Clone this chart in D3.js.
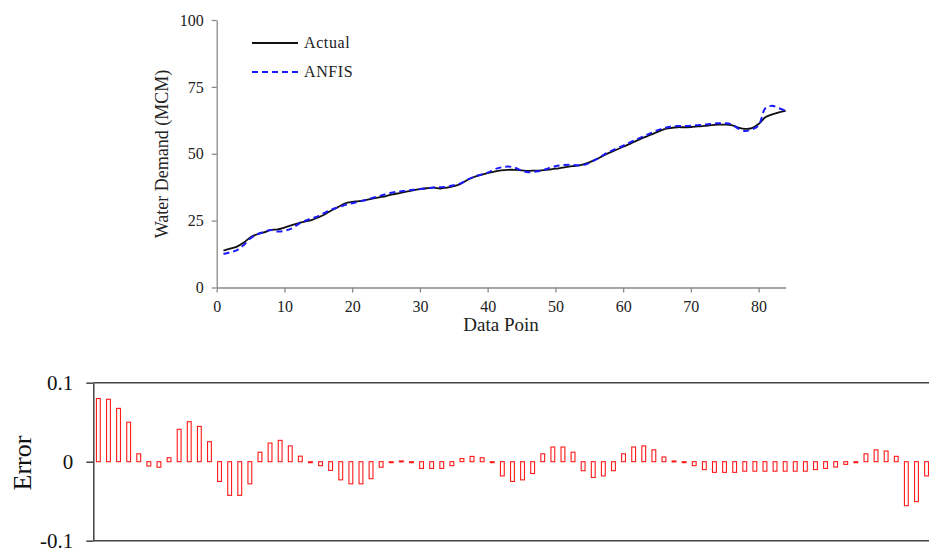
<!doctype html>
<html lang="en">

<head>
  <script src="https://d3js.org/d3.v7.min.js"></script>
  <style>
    body { margin: 0; background: #fff; }
    svg { display: block; }
    svg text { font-family: "Liberation Serif", "DejaVu Serif", serif; }
  </style>
</head>

<body>
  <svg id="chart" width="929" height="550">
    <g id="demand"></g>
    <g id="error"></g>
  </svg>
  <script>
    // values, data point 1..84
    var actual = [13.8, 14.5, 15.3, 16.8, 18.8, 19.9, 20.6, 21.5, 21.7, 22.4,
      23.2, 24.0, 24.6, 25.2, 26.2, 27.4, 28.9, 30.2, 31.5, 32.0,
      32.3, 32.7, 33.2, 33.7, 34.2, 34.8, 35.3, 35.8, 36.3, 36.8,
      37.1, 37.3, 37.0, 37.3, 37.9, 38.7, 40.2, 41.3, 42.1, 42.8,
      43.3, 43.8, 44.0, 44.0, 43.8, 43.6, 43.7, 43.8, 44.1, 44.4,
      44.8, 45.2, 45.5, 45.9, 46.8, 47.9, 49.2, 50.4, 51.5, 52.6,
      53.7, 54.9, 56.0, 57.0, 58.1, 59.1, 59.6, 59.9, 59.9, 60.0,
      60.2, 60.4, 60.7, 60.9, 60.9, 60.7, 59.8, 59.3, 59.6, 61.1,
      63.6, 64.7, 65.5, 66.0];

    var anfis = [12.5, 13.2, 14.0, 15.9, 18.4, 19.9, 20.8, 21.5, 20.9, 21.2,
      22.0, 23.6, 24.9, 25.8, 26.7, 28.0, 29.2, 30.0, 30.9, 31.5,
      32.1, 32.7, 33.5, 34.2, 34.9, 35.5, 35.9, 36.2, 36.5, 36.8,
      37.1, 37.4, 37.5, 37.7, 38.2, 38.9, 40.3, 41.4, 42.2, 42.9,
      44.2, 44.9, 45.2, 44.8, 43.7, 43.1, 43.3, 43.7, 44.6, 45.3,
      45.7, 45.9, 45.7, 45.7, 46.5, 47.9, 49.4, 50.8, 51.9, 53.0,
      54.2, 55.4, 56.5, 57.6, 58.7, 59.6, 60.1, 60.4, 60.4, 60.5,
      60.7, 60.9, 61.2, 61.4, 61.4, 61.0, 59.4, 58.5, 59.1, 60.6,
      67.0, 67.9, 67.0, 66.1];

    var errors = [0.080, 0.079, 0.0675, 0.050, 0.010, -0.0055, -0.007, 0.005, 0.041, 0.0506,
      0.0447, 0.0253, -0.025, -0.0426, -0.0426, -0.028, 0.012, 0.0236, 0.027, 0.020,
      0.007, -0.001, -0.005, -0.011, -0.023, -0.028, -0.028, -0.0215, -0.007, -0.001,
      0.001, -0.001, -0.0085, -0.0085, -0.0085, -0.005, 0.004, 0.0067, 0.005, -0.001,
      -0.018, -0.025, -0.023, -0.015, 0.010, 0.0186, 0.0186, 0.012, -0.0114, -0.020,
      -0.018, -0.0114, 0.010, 0.0186, 0.020, 0.015, 0.006, 0.001, -0.001, -0.005,
      -0.010, -0.0135, -0.0135, -0.0135, -0.012, -0.012, -0.012, -0.012, -0.012, -0.012,
      -0.012, -0.010, -0.0085, -0.0068, -0.0034, -0.001, 0.010, 0.015, 0.0135, 0.0068,
      -0.0557, -0.0506, -0.018, -0.001];

    var xTicks = [0, 10, 20, 30, 40, 50, 60, 70, 80];
    var yTicks = [0, 25, 50, 75, 100];
    var errTicks = [-0.1, 0, 0.1];
    var errLabels = ["-0.1", "0", "0.1"];

    var points = d3.range(1, actual.length + 1);
    var serif = "Liberation Serif";

    // ---- top chart: water demand ----
    const demand = d3.select("#demand");

    x = d3.scaleLinear()
        .domain([0, 84])
        .range([216.7, 785.7]);

    y = d3.scaleLinear()
        .domain([0, 100])
        .range([287.5, 20]);

    xAxis = g => g
        .attr("transform", `translate(0,${y(0)})`)
        .attr("font-family", serif)
        .call(d3.axisBottom(x).tickValues(xTicks).tickSize(5).tickSizeOuter(0))
        .call(g => g.selectAll("path, line").attr("stroke", "#8a8a8a").attr("stroke-width", 1.3))
        .call(g => g.selectAll("text").attr("font-size", 16).attr("fill", "#222")
            .attr("font-family", serif).attr("dy", "1.05em"));

    yAxis = g => g
        .attr("transform", `translate(${x(0)},0)`)
        .attr("font-family", serif)
        .call(d3.axisLeft(y).tickValues(yTicks).tickSize(5).tickSizeOuter(0))
        .call(g => g.selectAll("path, line").attr("stroke", "#8a8a8a").attr("stroke-width", 1.3))
        .call(g => g.selectAll("text").attr("font-size", 16).attr("fill", "#222")
            .attr("font-family", serif).attr("x", -13));

    demand.append("g").call(xAxis);
    demand.append("g").call(yAxis);

    line = series => d3.line()
        .curve(d3.curveCatmullRom)
        .x((d, i) => x(points[i]))
        .y(d => y(d))(series);

    demand.append("path")
        .attr("d", line(actual))
        .attr("fill", "none")
        .attr("stroke", "#111")
        .attr("stroke-width", 1.8);

    demand.append("path")
        .attr("d", line(anfis))
        .attr("fill", "none")
        .attr("stroke", "#1a1aff")
        .attr("stroke-width", 2)
        .attr("stroke-dasharray", "6,4");

    // legend
    var legend = [
      {name: "Actual", color: "#111", dash: null, width: 1.8},
      {name: "ANFIS", color: "#1a1aff", dash: "6,4", width: 2}
    ];
    var lg = demand.selectAll(".legend")
        .data(legend)
        .join("g")
        .attr("class", "legend")
        .attr("transform", (d, i) => `translate(252,${43 + i * 29})`);
    lg.append("line")
        .attr("x1", 0).attr("x2", 46)
        .attr("stroke", d => d.color)
        .attr("stroke-width", d => d.width)
        .attr("stroke-dasharray", d => d.dash);
    lg.append("text")
        .attr("x", 52)
        .attr("dy", "0.32em")
        .attr("font-family", serif)
        .attr("font-size", 16)
        .attr("fill", "#222")
        .attr("letter-spacing", 0.6)
        .text(d => d.name);

    demand.append("text")
        .attr("x", 501)
        .attr("y", 331)
        .attr("text-anchor", "middle")
        .attr("font-family", serif)
        .attr("font-size", 19)
        .attr("fill", "#222")
        .text("Data Poin");

    demand.append("text")
        .attr("transform", "translate(168,154) rotate(-90)")
        .attr("text-anchor", "middle")
        .attr("font-family", serif)
        .attr("font-size", 18)
        .attr("fill", "#222")
        .text("Water Demand (MCM)");

    // ---- bottom chart: error ----
    const errG = d3.select("#error");

    xb = d3.scaleBand()
        .domain(points)
        .range([93.3, 93.3 + 84 * 10.1])
        .paddingInner(0.62)
        .paddingOuter(0.31);

    yb = d3.scaleLinear()
        .domain([-0.1, 0.1])
        .range([540.7, 382.7]);

    errG.append("g")
        .attr("transform", `translate(93.3,0)`)
        .attr("font-family", serif)
        .call(d3.axisLeft(yb).tickValues(errTicks).tickFormat((d, i) => errLabels[i]).tickSize(7).tickSizeOuter(0))
        .call(g => g.selectAll("path, line").attr("stroke", "#444").attr("stroke-width", 1.5))
        .call(g => g.selectAll("text").attr("font-size", 21).attr("fill", "#111")
            .attr("font-family", serif).attr("x", -20));

    errG.selectAll(".edge")
        .data([0.1, -0.1])
        .join("line")
        .attr("class", "edge")
        .attr("x1", 93.3).attr("x2", 945)
        .attr("y1", d => yb(d)).attr("y2", d => yb(d))
        .attr("stroke", "#444")
        .attr("stroke-width", 1.5);

    errG.selectAll(".bar")
        .data(errors)
        .join("rect")
        .attr("class", "bar")
        .attr("x", (d, i) => xb(points[i]))
        .attr("width", xb.bandwidth())
        .attr("y", d => yb(Math.max(0, d)))
        .attr("height", d => Math.max(1, Math.abs(yb(d) - yb(0))))
        .attr("fill", "#fff")
        .attr("stroke", "#ff1a1a")
        .attr("stroke-width", 1.1);

    errG.append("text")
        .attr("transform", "translate(31,463) rotate(-90)")
        .attr("text-anchor", "middle")
        .attr("font-family", serif)
        .attr("font-size", 26)
        .attr("fill", "#111")
        .text("Error");
  </script>
</body>
</html>
